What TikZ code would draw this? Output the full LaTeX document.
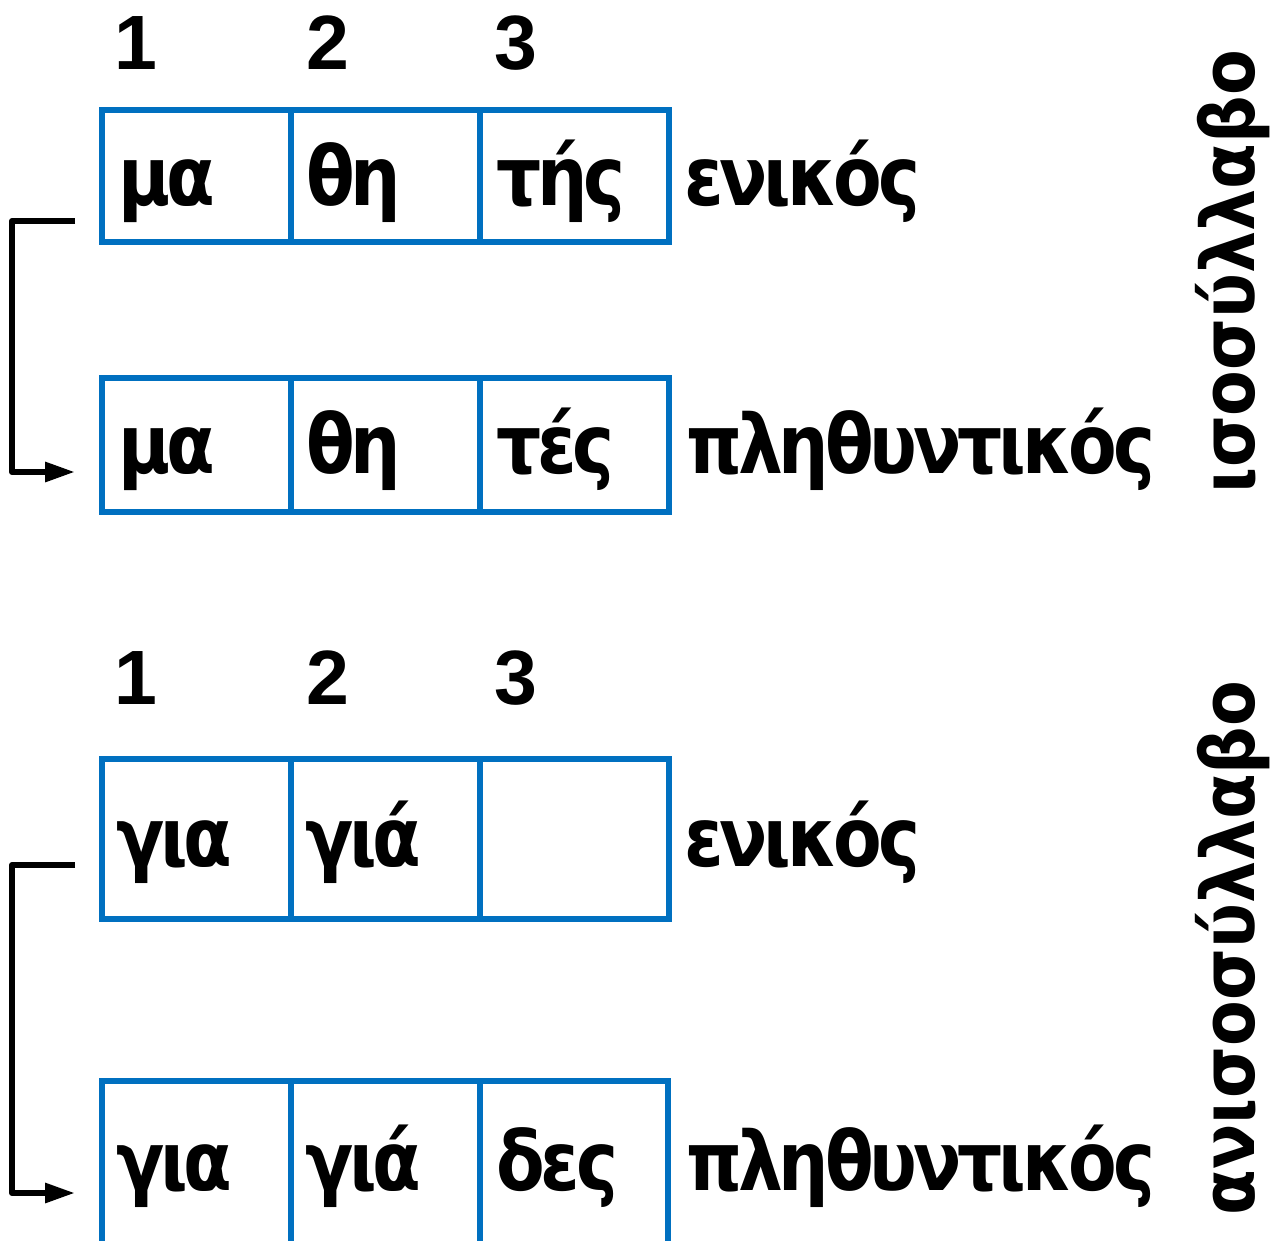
\documentclass[tikz,border=0pt]{standalone}
\usepackage{fontspec}
\setmainfont{Liberation Sans}
\newfontfamily\grk[LetterSpace=-5,FakeStretch=0.96]{DejaVu Sans Condensed}
\newfontfamily\grkside{DejaVu Sans Condensed}
\usetikzlibrary{arrows.meta}
\definecolor{cellblue}{HTML}{0070C0}
\begin{document}
\begin{tikzpicture}[x=1pt,y=-1pt,
  cellbox/.style={draw=cellblue,line width=6pt,minimum width=189pt,minimum height=132pt,anchor=north west,inner sep=0pt,outer sep=0pt},
  openline/.style={draw=cellblue,line width=6pt},
  celltext/.style={anchor=base west,inner sep=0pt,font=\grk\fontsize{82}{90}\selectfont\bfseries},
  numtext/.style={anchor=base west,inner sep=0pt,font=\fontsize{77}{80}\selectfont\bfseries},
  sidetext/.style={anchor=base,inner sep=0pt,rotate=90,font=\grkside\fontsize{74}{80}\selectfont\bfseries},
  bracket/.style={draw=black,line width=6pt,line join=round,-{Triangle[length=30pt,width=19pt]}}]
\useasboundingbox (0,0) rectangle (1282,1241);
% numbers top
\node[numtext] (n11) at (114,70) {1};
\node[numtext] (n12) at (306,70) {2};
\node[numtext] (n13) at (494,70) {3};
% table 1
\node[cellbox,minimum height=132pt] (t11) at (102,110) {};
\node[cellbox,minimum height=132pt] (t12) at (291,110) {};
\node[cellbox,minimum height=132pt] (t13) at (480,110) {};
\node[celltext] (x11) at (118,206) {μα};
\node[celltext] (x12) at (306,206) {θη};
\node[celltext] (x13) at (496,206) {τής};
\node[celltext] (l1) at (684,206) {ενικός};
% table 2
\node[cellbox,minimum height=134pt] (t21) at (102,378) {};
\node[cellbox,minimum height=134pt] (t22) at (291,378) {};
\node[cellbox,minimum height=134pt] (t23) at (480,378) {};
\node[celltext] (x21) at (118,473) {μα};
\node[celltext] (x22) at (306,473) {θη};
\node[celltext] (x23) at (496,473) {τές};
\node[celltext] (l2) at (686,473) {πληθυντικός};
% bracket 1
\coordinate (a1s) at (75,221);
\coordinate (a1e) at (75,472);
\draw[bracket] (a1s) -- (12,221) -- (12,472) -- (a1e);
% side text 1
\node[sidetext] (s1) at (1254,272) {ισοσύλλαβο};
% numbers bottom
\node[numtext] (n21) at (114,704) {1};
\node[numtext] (n22) at (306,704) {2};
\node[numtext] (n23) at (494,704) {3};
% table 3
\node[cellbox,minimum height=160pt] (t31) at (102,759) {};
\node[cellbox,minimum height=160pt] (t32) at (291,759) {};
\node[cellbox,minimum height=160pt] (t33) at (480,759) {};
\node[celltext] (x31) at (116,866) {για};
\node[celltext] (x32) at (305,866) {γιά};
\node[celltext] (l3) at (684,866) {ενικός};
% table 4 (open at bottom)
\coordinate (t4a) at (102,1081);
\coordinate (t4b) at (291,1081);
\coordinate (t4c) at (480,1081);
\coordinate (t4d) at (668,1081);
\draw[openline] (99,1081) -- (671,1081);
\draw[openline] (102,1078) -- (102,1250);
\draw[openline] (291,1078) -- (291,1250);
\draw[openline] (480,1078) -- (480,1250);
\draw[openline] (668,1078) -- (668,1250);
\node[celltext] (x41) at (116,1190) {για};
\node[celltext] (x42) at (305,1190) {γιά};
\node[celltext] (x43) at (496,1190) {δες};
\node[celltext] (l4) at (686,1190) {πληθυντικός};
% bracket 2
\coordinate (a2s) at (75,865);
\coordinate (a2e) at (75,1193);
\draw[bracket] (a2s) -- (12,865) -- (12,1193) -- (a2e);
% side text 2
\node[sidetext] (s2) at (1254,948) {ανισοσύλλαβο};
\end{tikzpicture}
\end{document}
